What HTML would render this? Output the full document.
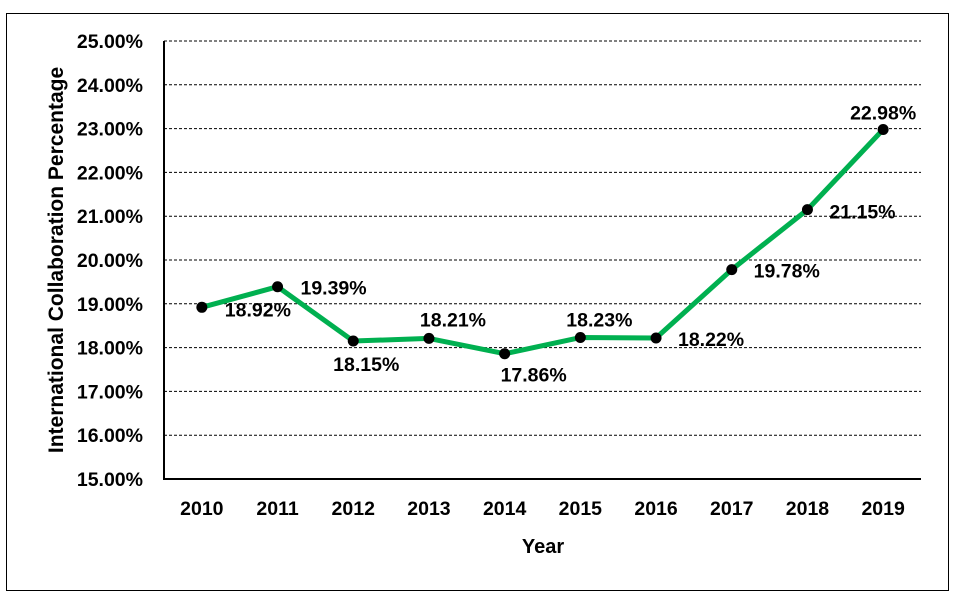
<!DOCTYPE html>
<html><head><meta charset="utf-8"><style>
body{margin:0;background:#fff;width:957px;height:600px;overflow:hidden}
svg text{font-family:"Liberation Sans",sans-serif;font-weight:bold;fill:#000}
</style></head><body>
<svg width="957" height="600">
<rect x="6.5" y="13.5" width="942" height="577" fill="#fff" stroke="#000" stroke-width="1"/>
<g id="grid"></g><g id="axes"></g><g id="series"></g><g id="labels"></g>
<text x="543" y="553" font-size="20" text-anchor="middle">Year</text>
<text transform="translate(63,260) rotate(-90)" font-size="21" text-anchor="middle">International Collaboration Percentage</text>
</svg>
<script>
const years=["2010","2011","2012","2013","2014","2015","2016","2017","2018","2019"];
const values=[18.92,19.39,18.15,18.21,17.86,18.23,18.22,19.78,21.15,22.98];
const valueLabels=["18.92%","19.39%","18.15%","18.21%","17.86%","18.23%","18.22%","19.78%","21.15%","22.98%"];
const yTicks=[15,16,17,18,19,20,21,22,23,24,25];
const L=164,R=921,T=41,B=479,ymin=15,ymax=25;
const band=(R-L)/years.length;
const x=i=>L+band*(i+0.5);
const y=v=>B-(v-ymin)/(ymax-ymin)*(B-T);
const NS="http://www.w3.org/2000/svg";
function mk(t,p,a){const e=document.createElementNS(NS,t);for(const k in a)e.setAttribute(k,a[k]);p.appendChild(e);return e;}
const grid=document.getElementById('grid'),axes=document.getElementById('axes'),series=document.getElementById('series'),labels=document.getElementById('labels');
yTicks.forEach(v=>{
  if(v>ymin){const g=mk('line',grid,{x1:L,x2:R,y1:y(v),y2:y(v),stroke:'#000','stroke-width':1,'stroke-dasharray':'3,2'});
  
  }
  const t=mk('text',axes,{x:143,y:y(v)+7,'font-size':19.5,'text-anchor':'end'});t.textContent=v.toFixed(2)+'%';
  
  
});
const ya=mk('line',axes,{x1:L,x2:L,y1:T,y2:B+1,stroke:'#000','stroke-width':2});


const xa=mk('line',axes,{x1:L-1,x2:R,y1:B,y2:B,stroke:'#000','stroke-width':2});


years.forEach((yr,i)=>{const t=mk('text',axes,{x:x(i),y:515,'font-size':19.5,'text-anchor':'middle'});t.textContent=yr;
  
  });
const line=mk('polyline',series,{points:values.map((v,i)=>x(i)+','+y(v)).join(' '),fill:'none',stroke:'#00b050','stroke-width':5,'stroke-linejoin':'round'});


const off=[[56,9],[56,8],[13,30],[24,-12],[29,28],[19,-11],[55,8],[55,8],[55,9],[0,-10]];
values.forEach((v,i)=>{
  const c=mk('circle',series,{cx:x(i),cy:y(v),r:5.5,fill:'#000'});
  
  
  const t=mk('text',labels,{x:x(i)+off[i][0],y:y(v)+off[i][1],'font-size':19.5,'text-anchor':'middle'});
  t.textContent=valueLabels[i];
  
  
});
</script>
</body></html>
